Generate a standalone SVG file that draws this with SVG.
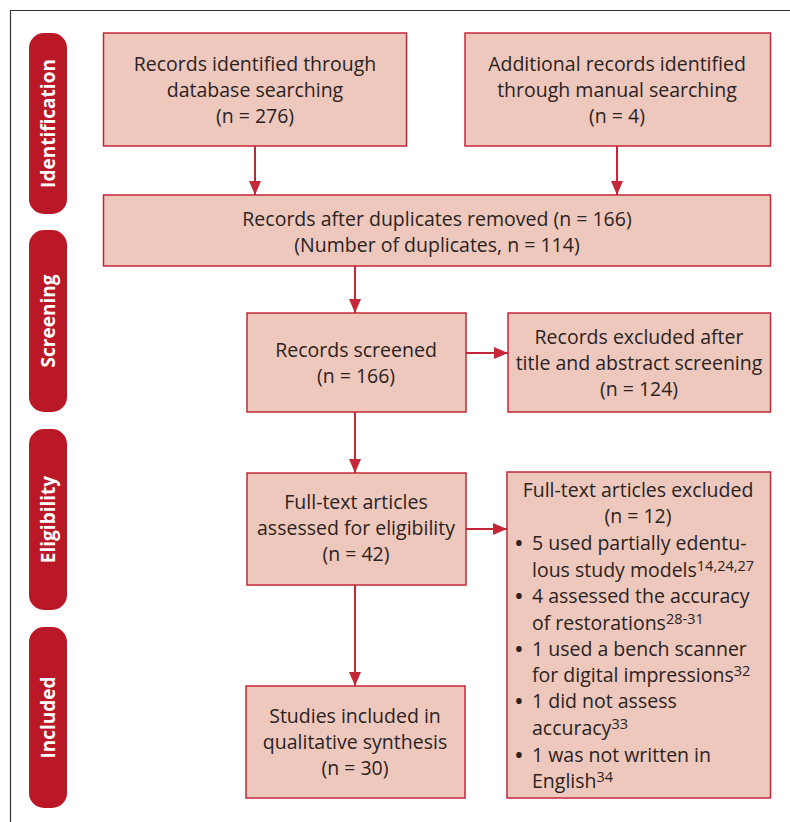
<svg xmlns="http://www.w3.org/2000/svg" width="790" height="822" viewBox="0 0 790 822">
<defs>
<style>
.box{fill:#EEC8BC;stroke:#C42737;stroke-width:1.5}
.pill{fill:#BA1826}
.t{font-family:"Open Sans","Liberation Sans",sans-serif;font-size:19.5px;fill:#2B2222;text-anchor:middle}
.l{font-family:"Open Sans","Liberation Sans",sans-serif;font-size:19.5px;fill:#2B2222}
.b{font-family:"Open Sans","Liberation Sans",sans-serif;font-size:26px;fill:#2B2222}
.sup{font-size:14.5px}
.p{font-family:"Open Sans","Liberation Sans",sans-serif;font-size:19px;font-weight:bold;fill:#FFFFFF;text-anchor:middle}
.c{stroke:#C42737;stroke-width:2;fill:none}
</style>
<marker id="ah" markerWidth="14" markerHeight="12" refX="14" refY="6" orient="auto" markerUnits="userSpaceOnUse">
<path d="M0,0 L14,6 L0,12 Z" fill="#C42737"/>
</marker>
</defs>
<rect width="790" height="822" fill="#FFFFFF"/>
<path d="M790,10.5 H10.5 V822" fill="none" stroke="#333333" stroke-width="1.2"/>

<g id="pill-identification"><rect class="pill" x="29" y="33" width="38" height="181" rx="15"/><text class="p" transform="translate(54.5,123.5) rotate(-90)">Identification</text></g>
<g id="pill-screening"><rect class="pill" x="29" y="230" width="38" height="182" rx="15"/><text class="p" transform="translate(54.5,321) rotate(-90)">Screening</text></g>
<g id="pill-eligibility"><rect class="pill" x="29" y="429" width="38" height="181" rx="15"/><text class="p" transform="translate(54.5,519.5) rotate(-90)">Eligibility</text></g>
<g id="pill-included"><rect class="pill" x="29" y="627" width="38" height="181" rx="15"/><text class="p" transform="translate(54.5,717.5) rotate(-90)">Included</text></g>

<g id="connectors">
<line class="c" x1="255" y1="146" x2="255" y2="195" marker-end="url(#ah)"/>
<line class="c" x1="617" y1="146" x2="617" y2="195" marker-end="url(#ah)"/>
<line class="c" x1="355" y1="266" x2="355" y2="313" marker-end="url(#ah)"/>
<line class="c" x1="466" y1="353" x2="508" y2="353" marker-end="url(#ah)"/>
<line class="c" x1="355" y1="412" x2="355" y2="473" marker-end="url(#ah)"/>
<line class="c" x1="466" y1="529" x2="507" y2="529" marker-end="url(#ah)"/>
<line class="c" x1="355" y1="585" x2="355" y2="686" marker-end="url(#ah)"/>
</g>

<g id="box-database"><rect class="box" x="103.5" y="33" width="303" height="113"/>
<text class="t" x="255" y="71">Records identified through</text>
<text class="t" x="255" y="97">database searching</text>
<text class="t" x="255" y="123">(n = 276)</text></g>

<g id="box-manual"><rect class="box" x="465" y="33" width="305.5" height="113"/>
<text class="t" x="617" y="71">Additional records identified</text>
<text class="t" x="617" y="97">through manual searching</text>
<text class="t" x="617" y="123">(n = 4)</text></g>

<g id="box-duplicates"><rect class="box" x="103.5" y="195" width="667" height="71"/>
<text class="t" x="437" y="226">Records after duplicates removed (n = 166)</text>
<text class="t" x="437" y="252">(Number of duplicates, n = 114)</text></g>

<g id="box-screened"><rect class="box" x="247" y="313" width="219" height="99"/>
<text class="t" x="356" y="357">Records screened</text>
<text class="t" x="356" y="383">(n = 166)</text></g>

<g id="box-excluded-title"><rect class="box" x="508" y="313" width="262.5" height="99"/>
<text class="t" x="639" y="344">Records excluded after</text>
<text class="t" x="639" y="370">title and abstract screening</text>
<text class="t" x="639" y="396">(n = 124)</text></g>

<g id="box-fulltext"><rect class="box" x="247" y="473" width="219" height="112"/>
<text class="t" x="356" y="509">Full-text articles</text>
<text class="t" x="356" y="535">assessed for eligibility</text>
<text class="t" x="356" y="561">(n = 42)</text></g>

<g id="box-fulltext-excluded"><rect class="box" x="507" y="472" width="263.5" height="326"/>
<text class="t" x="638" y="497">Full-text articles excluded</text>
<text class="t" x="638" y="523">(n = 12)</text>
<text class="b" x="514" y="552">•</text><text class="l" x="532" y="550">5 used partially edentu-</text>
<text class="l" x="532" y="577">lous study models<tspan class="sup" dy="-6">14,24,27</tspan></text>
<text class="b" x="514" y="605">•</text><text class="l" x="532" y="603">4 assessed the accuracy</text>
<text class="l" x="532" y="630">of restorations<tspan class="sup" dy="-6">28-31</tspan></text>
<text class="b" x="514" y="658">•</text><text class="l" x="532" y="656">1 used a bench scanner</text>
<text class="l" x="532" y="682">for digital impressions<tspan class="sup" dy="-6">32</tspan></text>
<text class="b" x="514" y="710">•</text><text class="l" x="532" y="708">1 did not assess</text>
<text class="l" x="532" y="735">accuracy<tspan class="sup" dy="-6">33</tspan></text>
<text class="b" x="514" y="764">•</text><text class="l" x="532" y="762">1 was not written in</text>
<text class="l" x="532" y="788">English<tspan class="sup" dy="-6">34</tspan></text></g>

<g id="box-included"><rect class="box" x="246" y="686" width="219" height="112"/>
<text class="t" x="355" y="723">Studies included in</text>
<text class="t" x="355" y="749">qualitative synthesis</text>
<text class="t" x="355" y="775">(n = 30)</text></g>
</svg>
